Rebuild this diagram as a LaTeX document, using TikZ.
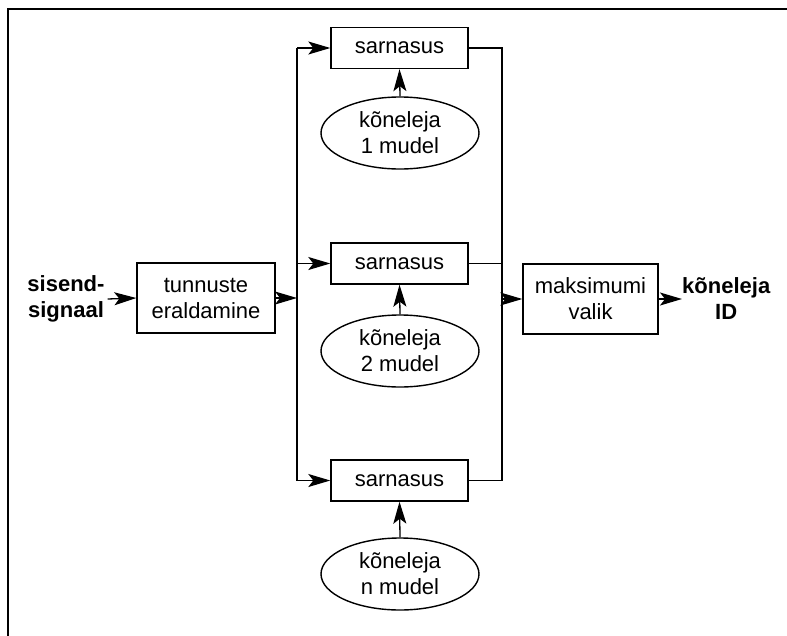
\documentclass[tikz,border=0pt]{standalone}
\usepackage{fontspec}
\setmainfont{Liberation Sans}
\usetikzlibrary{shapes.geometric,arrows.meta}

\begin{document}
\begin{tikzpicture}[x=1pt,y=-1pt,
  txt/.style={font=\fontsize{22}{26}\selectfont, align=center},
  bold/.style={txt, font=\fontsize{22}{26}\selectfont\bfseries, inner sep=3pt},
  block/.style={txt, draw, line width=1.4pt, inner sep=0pt},
  model/.style={txt, draw, ellipse, line width=1.4pt, inner sep=0pt,
                minimum width=158pt, minimum height=72pt},
  wire/.style={line width=1.3pt},
  arr/.style={wire, -{Stealth[length=22pt, width=13pt, inset=5pt]}},
  frame/.style={line width=2.2pt}
]
\useasboundingbox (0,0) rectangle (787,635);

% outer frame: top and left edges only
\draw[frame] (8,636) -- (8,9) -- (788,9);

% input, feature extraction, decision, output
\node[bold] (in) at (66,299) {sisend-\\signaal};
\node[block, minimum width=138pt, minimum height=70pt] (feat) at (206,298) {tunnuste\\eraldamine};
\node[block, minimum width=135pt, minimum height=70pt] (max) at (590.5,299) {maksimumi\\valik};
\node[bold, anchor=west, inner sep=0pt] (out) at (682,299) {kõneleja\\ID};

% comparison blocks
\node[block, minimum width=137pt, minimum height=41pt] (s1) at (399.5,48) {sarnasus};
\node[block, minimum width=137pt, minimum height=41pt] (s2) at (399.5,263.5) {sarnasus};
\node[block, minimum width=137pt, minimum height=41pt] (s3) at (399.5,480.5) {sarnasus};

% speaker models
\node[model] (m1) at (400,133) {kõneleja\\1 mudel};
\node[model] (m2) at (400,351) {kõneleja\\2 mudel};
\node[model] (m3) at (400,574) {kõneleja\\n mudel};

% bus junction points
\coordinate (lb1) at (297,48);
\coordinate (lb2) at (297,263.5);
\coordinate (lb3) at (297,480.5);
\coordinate (rb1) at (502,48);
\coordinate (rb2) at (502,263.5);
\coordinate (rb3) at (502,480.5);

% left distribution bus
\draw[wire] (lb1) -- (lb3);
\draw[arr] (lb1) -- (s1.west);
\draw[arr] (lb2) -- (s2.west);
\draw[arr] (lb3) -- (s3.west);

% right collection bus
\draw[wire] (s1.east) -- (rb1) -- (rb3) -- (s3.east);
\draw[wire] (s2.east) -- (rb2);

% model inputs
\draw[arr] (m1.north) -- (s1.south);
\draw[arr] (m2.north) -- (s2.south);
\draw[arr] (m3.north) -- (s3.south);

% main signal path
\draw[arr] (in.east) -- (feat.west);
\draw[arr] (feat.east) -- (feat.east -| lb1);
\draw[arr] (max.west -| rb1) -- (max.west);
\draw[arr] (max.east) -- (out.west);
\end{tikzpicture}
\end{document}
